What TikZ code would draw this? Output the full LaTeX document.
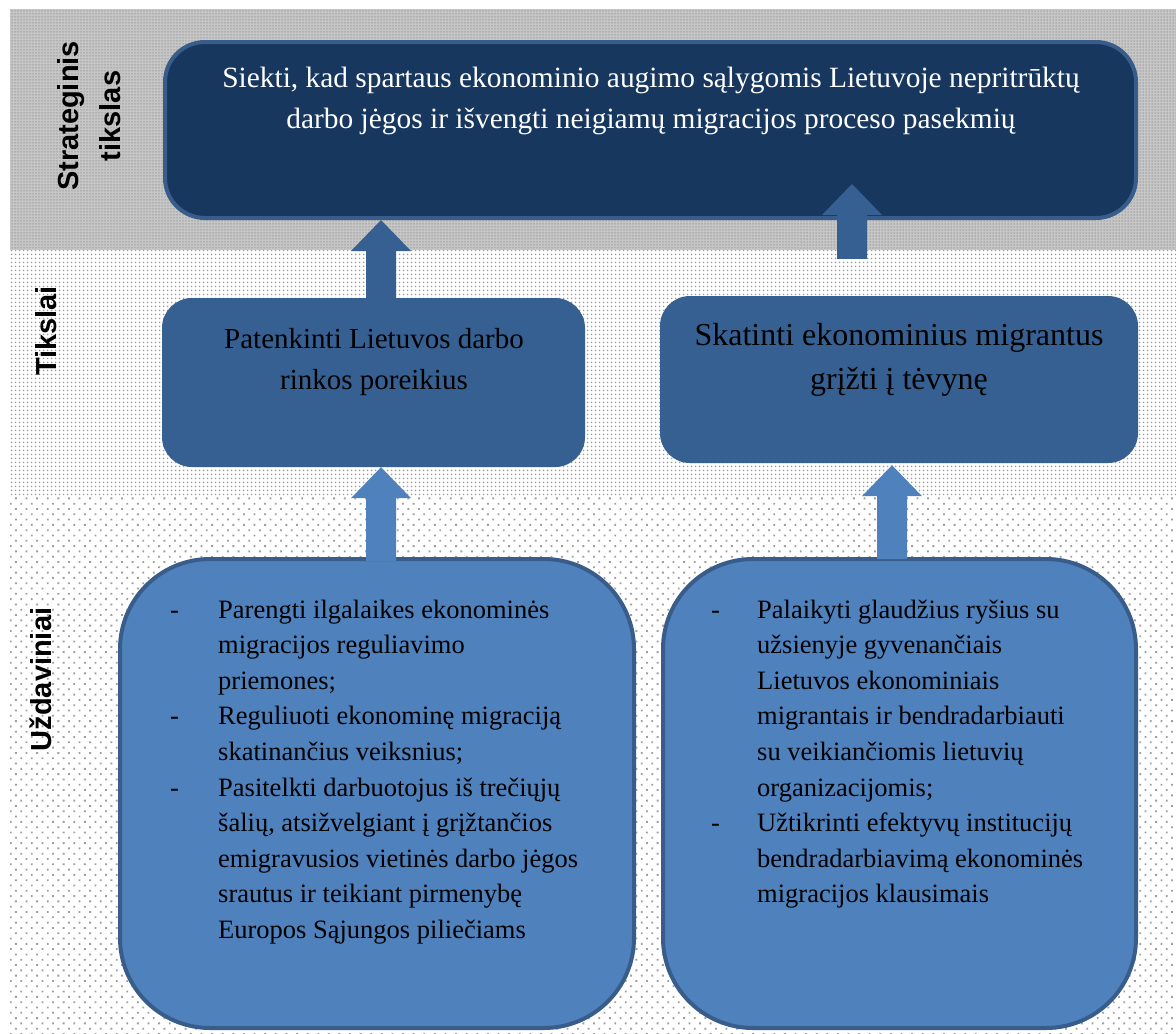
\documentclass[tikz,border=0pt]{standalone}
\usepackage{fontspec}
\setmainfont{Liberation Serif}
\newfontfamily\labelsans{Liberation Sans}
\usetikzlibrary{patterns.meta,calc}
\definecolor{navy}{HTML}{17375E}
\definecolor{midblue}{HTML}{366092}
\definecolor{lightblue}{HTML}{4F81BD}
\definecolor{edgeblue}{HTML}{385D8A}
\newcommand\fatarrow[3]{% style, base, tip
  \fill[#1] let \p1=(#2), \p2=(#3) in
    (\x2-15pt,\y1) -- (\x2-15pt,\y2-31pt) -- (\x2-30pt,\y2-31pt) -- (\x2,\y2)
    -- (\x2+30pt,\y2-31pt) -- (\x2+15pt,\y2-31pt) -- (\x2+15pt,\y1) -- cycle;}
\tikzset{
  topbox/.style={draw=edgeblue, line width=4pt, fill=navy, rounded corners=40pt, inner sep=0pt},
  midbox/.style={fill=midblue, rounded corners=30pt, inner sep=0pt},
  lowbox/.style={draw=edgeblue, line width=4pt, fill=lightblue, rounded corners=90pt, inner sep=0pt},
  sidelabel/.style={rotate=90, font=\labelsans\bfseries\fontsize{29}{42}\selectfont, align=center, inner sep=0pt},
  listtext/.style={anchor=north west, inner sep=0pt, font=\fontsize{26.5}{35.6}\selectfont},
  uparrowdark/.style={fill=midblue},
  uparrowlight/.style={fill=lightblue}
}
\begin{document}
\begin{tikzpicture}[x=1pt,y=-1pt]
\useasboundingbox (0,0) rectangle (1176,1034);
% background bands
\fill[gray!45] (10,9) rectangle (1176,250);
\fill[pattern={Dots[distance=3pt,radius=0.75pt]}, pattern color=gray!80] (10,9) rectangle (1176,250);
\fill[white] (10,250) rectangle (1176,497);
\fill[pattern={Dots[distance=4pt,radius=1.1pt]}, pattern color=gray!80] (10,250) rectangle (1176,497);
\fill[white] (10,497) rectangle (1176,1034);
\fill[pattern={Dots[distance=7.5pt,angle=45,radius=1.3pt]}, pattern color=gray!75] (10,497) rectangle (1176,1034);

% side labels
\node[sidelabel] (lab1) at (89,116) {Strateginis\\tikslas};
\node[sidelabel] (lab2) at (46.5,331) {Tikslai};
\node[sidelabel] (lab3) at (40.5,679.5) {Uždaviniai};

% boxes
\node[topbox, minimum width=971pt, minimum height=176pt] (top) at (650.5,130) {};
\node[midbox, minimum width=423pt, minimum height=169pt] (m1) at (373.5,382.5) {};
\node[midbox, minimum width=478pt, minimum height=167pt] (m2) at (899,379.5) {};
\node[lowbox, minimum width=514pt, minimum height=469pt] (b1) at (377,793.5) {};
\node[lowbox, minimum width=473pt, minimum height=469pt] (b2) at (899.5,793.5) {};

% texts
\node[text=white, align=center, font=\fontsize{29.4}{41}\selectfont, inner sep=0pt] (toptxt) at (651,101)
  {Siekti, kad spartaus ekonominio augimo sąlygomis Lietuvoje nepritrūktų\\darbo jėgos ir išvengti neigiamų migracijos proceso pasekmių};
\node[align=center, font=\fontsize{29}{41}\selectfont, inner sep=0pt] (m1txt) at (374,362)
  {Patenkinti Lietuvos darbo\\rinkos poreikius};
\node[align=center, font=\fontsize{32}{44}\selectfont, inner sep=0pt] (m2txt) at (899,360)
  {Skatinti ekonominius migrantus\\grįžti į tėvynę};

\node[listtext] (b1txt) at (170,593) {\begin{tabular}{@{}p{48pt}@{}l@{}}
-&Parengti ilgalaikes ekonominės\\
 &migracijos reguliavimo\\
 &priemones;\\
-&Reguliuoti ekonominę migraciją\\
 &skatinančius veiksnius;\\
-&Pasitelkti darbuotojus iš trečiųjų\\
 &šalių, atsižvelgiant į grįžtančios\\
 &emigravusios vietinės darbo jėgos\\
 &srautus ir teikiant pirmenybę\\
 &Europos Sąjungos piliečiams
\end{tabular}};
\node[listtext] (b2txt) at (711,593) {\begin{tabular}{@{}p{46pt}@{}l@{}}
-&Palaikyti glaudžius ryšius su\\
 &užsienyje gyvenančiais\\
 &Lietuvos ekonominiais\\
 &migrantais ir bendradarbiauti\\
 &su veikiančiomis lietuvių\\
 &organizacijomis;\\
-&Užtikrinti efektyvų institucijų\\
 &bendradarbiavimą ekonominės\\
 &migracijos klausimais
\end{tabular}};

% arrows
\coordinate (ax1) at (381,0);
\coordinate (ax2) at (852,0);
\coordinate (ax4) at (892,0);
\fatarrow{uparrowdark}{m1.north -| ax1}{top.south -| ax1}
\fatarrow{uparrowdark}{$(m2.north -| ax2)+(0,-37)$}{$(top.south -| ax2)+(0,-36)$}
\fatarrow{uparrowlight}{$(b1.north -| ax1)+(0,4)$}{m1.south -| ax1}
\fatarrow{uparrowlight}{$(b2.north -| ax4)+(0,2)$}{$(m2.south -| ax4)+(0,2)$}
\end{tikzpicture}
\end{document}
